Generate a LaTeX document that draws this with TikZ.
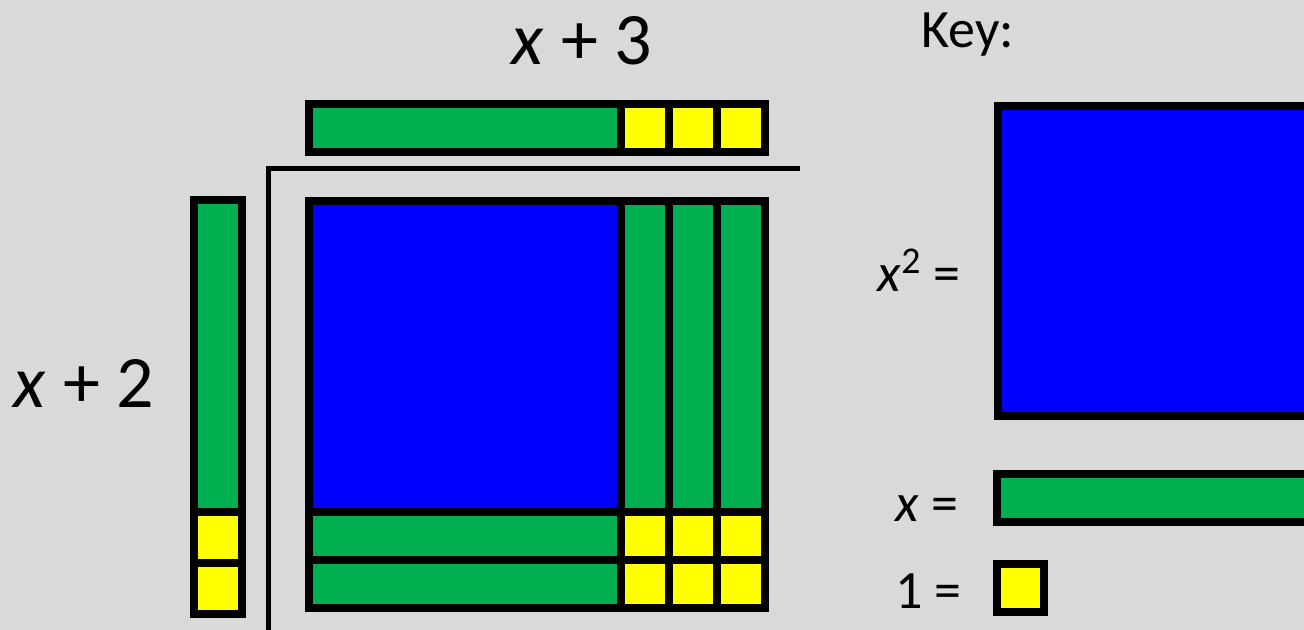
\documentclass[tikz,border=0pt]{standalone}
\usepackage{fontspec}
\setmainfont{Carlito}
\usetikzlibrary{positioning}
\definecolor{tilegreen}{HTML}{00B050}
\definecolor{tileyellow}{HTML}{FFFF00}
\definecolor{tileblue}{HTML}{0000FF}
\definecolor{slidegray}{HTML}{D9D9D9}

\begin{document}
\begin{tikzpicture}[x=0.5pt,y=-0.5pt,
  tile/.style={draw=black, line width=4pt},
  sqtile/.style={tile, fill=tileblue},
  xtile/.style={tile, fill=tilegreen},
  onetile/.style={tile, fill=tileyellow},
  factorlabel/.style={font=\fontsize{37}{44}\selectfont, anchor=base, inner sep=0pt},
  keylabel/.style={font=\fontsize{27}{32}\selectfont, anchor=base east, inner sep=0pt}]

% Background
\fill[slidegray] (0,0) rectangle (1304,630);
\useasboundingbox (0,0) rectangle (1304,630);

% Top factor: x + 3
\draw[xtile] (309,104) rectangle (621,152);
\foreach \i in {0,1,2}
  \draw[onetile] (621+48*\i,104) rectangle (669+48*\i,152);

% Left factor: x + 2
\draw[xtile] (194,200) rectangle (242,512);
\draw[onetile] (194,512) rectangle (242,563);
\draw[onetile] (194,563) rectangle (242,614);

% Corner lines
\draw[line width=2.5pt] (268,640) -- (268,169) -- (800,169);

% Product
\draw[sqtile] (309,201) rectangle (621,512);
\foreach \i in {0,1,2}
  \draw[xtile] (621+48*\i,201) rectangle (669+48*\i,512);
\foreach \j in {0,1} {
  \draw[xtile] (309,512+48*\j) rectangle (621,560+48*\j);
  \foreach \i in {0,1,2}
    \draw[onetile] (621+48*\i,512+48*\j) rectangle (669+48*\i,560+48*\j);
}

% Factor labels
\node[factorlabel] (topfactor) at (582,65) {\textit{x} + 3};
\node[factorlabel] (leftfactor) at (84,407) {\textit{x} + 2};

% Key
\node[keylabel, anchor=base west] (keytitle) at (921,48) {Key:};
\node[keylabel] (keysq) at (961,292) {\textit{x}\textsuperscript{2} =};
\node[keylabel] (keyx) at (959,521) {\textit{x} =};
\node[keylabel] (keyone) at (962,608) {1 =};
\draw[sqtile] (998,106) rectangle (1320,416);
\draw[xtile] (997,474) rectangle (1320,522);
\draw[onetile] (997,564) rectangle (1044,612);
\end{tikzpicture}
\end{document}
